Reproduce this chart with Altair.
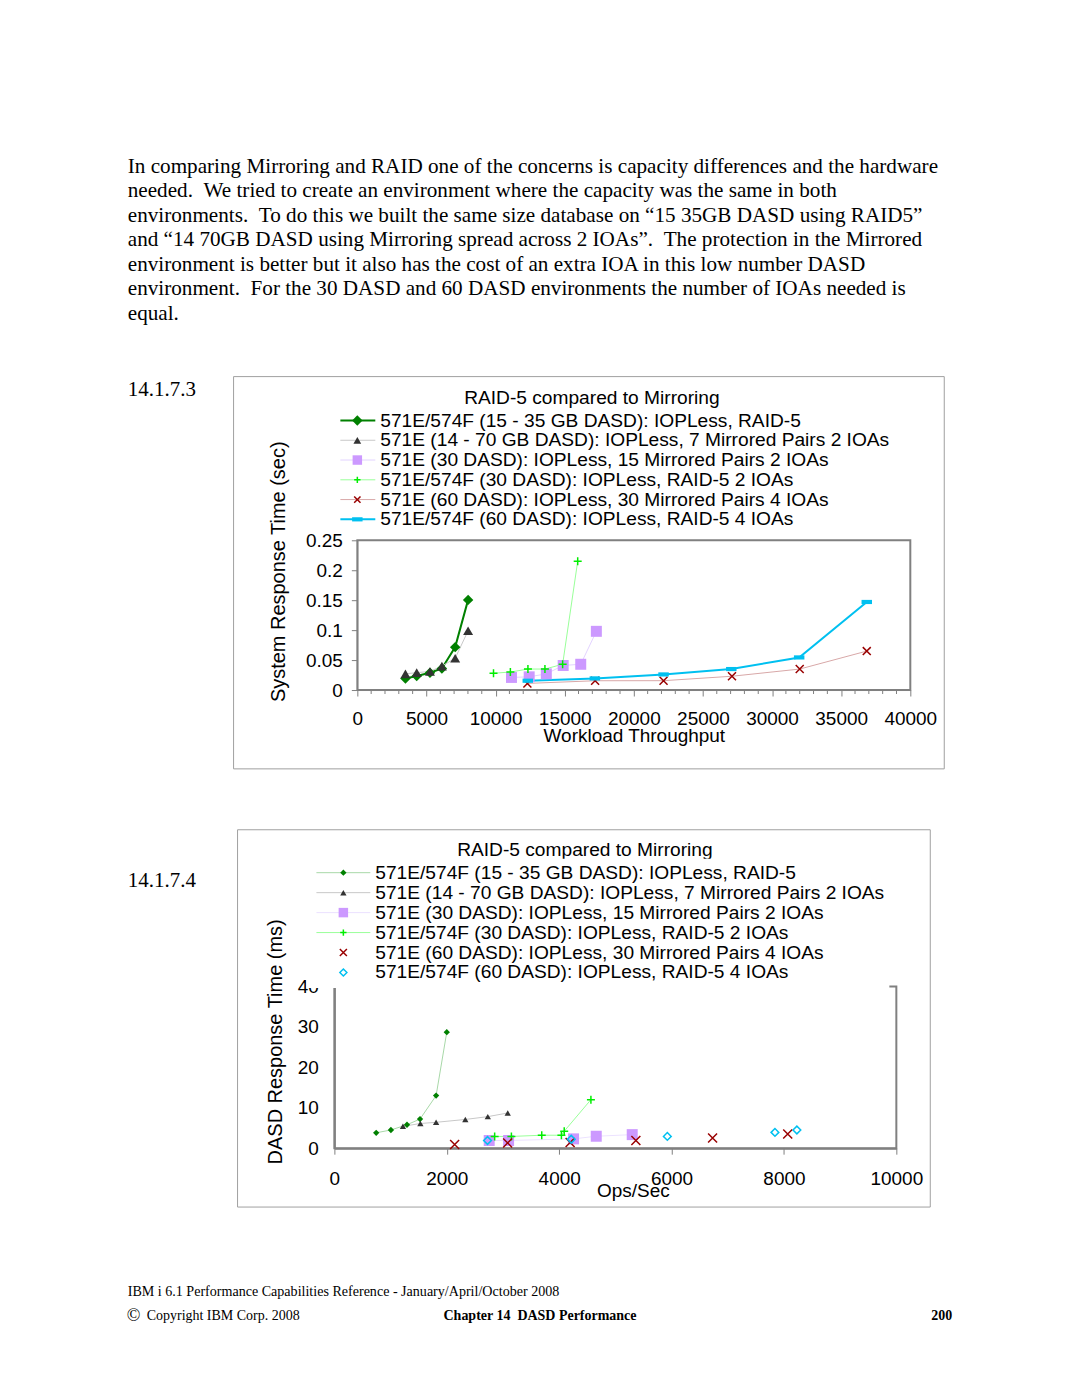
import altair as alt
import pandas as pd

SANS = "Liberation Sans"
SERIF = "Liberation Serif"

# ---------------- text content ----------------
PARA_LINES = [
    "In comparing Mirroring and RAID one of the concerns is capacity differences and the hardware",
    "needed. \u00a0We tried to create an environment where the capacity was the same in both",
    "environments. \u00a0To do this we built the same size database on \u201c15 35GB DASD using RAID5\u201d",
    "and \u201c14 70GB DASD using Mirroring spread across 2 IOAs\u201d. \u00a0The protection in the Mirrored",
    "environment is better but it also has the cost of an extra IOA in this low number DASD",
    "environment. \u00a0For the 30 DASD and 60 DASD environments the number of IOAs needed is",
    "equal.",
]
SECTION_1 = "14.1.7.3"
SECTION_2 = "14.1.7.4"
CHART_TITLE = "RAID-5 compared to Mirroring"
SERIES_NAMES = [
    "571E/574F (15 - 35 GB DASD): IOPLess, RAID-5",
    "571E (14 - 70 GB DASD): IOPLess, 7 Mirrored Pairs 2 IOAs",
    "571E (30 DASD): IOPLess, 15 Mirrored Pairs 2 IOAs",
    "571E/574F (30 DASD): IOPLess, RAID-5 2 IOAs",
    "571E (60 DASD): IOPLess, 30 Mirrored Pairs 4 IOAs",
    "571E/574F (60 DASD): IOPLess, RAID-5 4 IOAs",
]
FOOT_1 = "IBM i 6.1 Performance Capabilities Reference - January/April/October 2008"
FOOT_2 = "Copyright IBM Corp. 2008"
FOOT_CHAPTER = "Chapter 14 \u00a0DASD Performance"
FOOT_PAGE = "200"

# ---------------- chart 1 data (System Response Time, sec) ----------------
c1_x1 = [3480, 4295, 5254, 6117, 7077, 8012]
c1_y1 = [0.0194, 0.0233, 0.0288, 0.036, 0.0716, 0.1505]
c1_x2 = [3480, 4295, 5254, 6117, 7077, 8012]
c1_y2 = [0.027, 0.029, 0.031, 0.040, 0.053, 0.099]
c1_x3 = [11150, 12430, 13670, 14890, 16160, 17290]
c1_y3 = [0.021, 0.022, 0.027, 0.041, 0.043, 0.098]
c1_x4 = [9850, 11070, 12340, 13570, 14850, 15940]
c1_y4 = [0.028, 0.030, 0.035, 0.035, 0.043, 0.215]
c1_x5 = [12300, 17200, 22150, 27100, 32000, 36850]
c1_y5 = [0.011, 0.0155, 0.0156, 0.023, 0.035, 0.065]
c1_x6 = [12330, 17180, 22150, 27050, 31960, 36850]
c1_y6 = [0.0155, 0.0194, 0.026, 0.035, 0.0544, 0.147]
c1_xticks = [0, 5000, 10000, 15000, 20000, 25000, 30000, 35000, 40000]
c1_minor = [v for v in range(0, 40001, 1000) if v % 5000]
c1_yticks = [0, 0.05, 0.1, 0.15, 0.2, 0.25]

# ---------------- chart 2 data (DASD Response Time, ms) ----------------
c2_x1 = [744, 1006, 1292, 1524, 1810, 2000]
c2_y1 = [3.8, 4.5, 5.8, 7.2, 13.0, 28.7]
c2_x2 = [1220, 1530, 1810, 2330, 2730, 3085]
c2_y2 = [5.4, 6.1, 6.4, 7.1, 7.8, 8.7]
c2_x3 = [2755, 3100, 4256, 4660, 5300]
c2_y3 = [1.9, 1.9, 2.3, 2.95, 3.35]
c2_x4 = [2852, 3150, 3690, 4040, 4090, 4565]
c2_y4 = [2.9, 2.9, 3.2, 3.2, 4.2, 12.0]
c2_x5 = [2140, 3083, 4195, 5365, 6730, 8067]
c2_y5 = [0.9, 1.3, 1.4, 1.9, 2.5, 3.5]
c2_x6 = [2725, 4215, 5925, 7840, 8230]
c2_y6 = [1.9, 2.2, 2.9, 3.9, 4.5]
c2_xticks = [0, 2000, 4000, 6000, 8000, 10000]
c2_yticks = [0, 10, 20, 30, 40]

# ---------------- helpers ----------------
one = pd.DataFrame({"k": [0]})
PLUS = "M-1,0L1,0M0,-1L0,1"
XMARK = "M-1,-1L1,1M-1,1L1,-1"
DASH = "M-1,-0.4L1,-0.4L1,0.4L-1,0.4Z"


def df_of(xs, ys):
    return pd.DataFrame({"x": xs, "y": ys})


def vtext(text, x, y, size, font, align="left", baseline="alphabetic", weight="normal", **kw):
    return alt.Chart(one).mark_text(
        text=text, font=font, fontSize=size, align=align, baseline=baseline,
        fontWeight=weight, color="black", **kw
    ).encode(x=alt.value(x), y=alt.value(y))


def line_layer(df, X, Y, color, width):
    return alt.Chart(df).mark_line(color=color, strokeWidth=width).encode(x=X, y=Y)


def point_layer(df, X, Y, st):
    return alt.Chart(df).mark_point(
        shape=st["shape"], size=st["size"], filled=st["filled"], color=st["color"],
        strokeWidth=st.get("sw", 1), opacity=1
    ).encode(x=X, y=Y)


def legend_layers(styles, y0, dy, lx1, lx2, mx, tx):
    out = []
    for i, (name, st) in enumerate(zip(SERIES_NAMES, styles)):
        y = y0 + i * dy
        if st.get("line"):
            out.append(alt.Chart(one).mark_rule(color=st["line"], strokeWidth=st["lw"]).encode(
                x=alt.value(lx1), x2=alt.value(lx2), y=alt.value(y)))
        out.append(alt.Chart(one).mark_point(
            shape=st["shape"], size=st.get("lsize", st["size"]), filled=st["filled"],
            color=st["color"], strokeWidth=st.get("sw", 1), opacity=1
        ).encode(x=alt.value(mx), y=alt.value(y)))
        out.append(vtext(name, tx, y, 19.2, SANS, baseline="middle"))
    return out


# ---------------- chart 1 ----------------
W1, H1 = 554, 150
X1 = alt.X("x:Q", title="Workload Throughput",
           scale=alt.Scale(domain=[0, 40000], nice=False, zero=False),
           axis=alt.Axis(values=c1_xticks, format="d", grid=False, labelFlush=False,
                         labelFontSize=19, labelBaseline="middle", tickSize=6, labelPadding=23,
                         tickColor="#808080", domainColor="#808080",
                         titleFontSize=19, titleY=46, titleBaseline="middle"))
Y1 = alt.Y("y:Q", title="System Response Time (sec)",
           scale=alt.Scale(domain=[0, 0.25], nice=False),
           axis=alt.Axis(values=c1_yticks, format=".2~f", grid=False,
                         labelFontSize=19, tickSize=6, labelPadding=9,
                         tickColor="#808080", domainColor="#808080",
                         titleFontSize=20, titleX=-79, titleY=31, titleAngle=270,
                         titleAlign="center", titleBaseline="middle"))

st1 = [
    dict(shape="diamond", size=110, filled=True, color="#008000", line="#008000", lw=2),
    dict(shape="triangle-up", size=100, filled=True, color="#333333", line="#c8c8c8", lw=1, lsize=60),
    dict(shape="square", size=121, filled=True, color="#cc99ff", line="#e3d3ff", lw=1, lsize=90),
    dict(shape=PLUS, size=64, filled=False, color="#00ee00", line="#99ff99", lw=1, sw=1.5, lsize=40),
    dict(shape=XMARK, size=64, filled=False, color="#990000", line="#d8a8a8", lw=1, sw=1.5, lsize=40),
    dict(shape=DASH, size=110, filled=True, color="#00c0f0", line="#00c0f0", lw=2),
]
c1_data = [(c1_x1, c1_y1), (c1_x2, c1_y2), (c1_x3, c1_y3),
           (c1_x4, c1_y4), (c1_x5, c1_y5), (c1_x6, c1_y6)]

c1_layers = [
    alt.Chart(one).mark_rect(fillOpacity=0, stroke="#a0a0a0", strokeWidth=1).encode(
        x=alt.value(-124), x2=alt.value(588), y=alt.value(-164), y2=alt.value(229)),
    alt.Chart(pd.DataFrame({"x": c1_minor})).mark_rule(color="#808080", strokeWidth=1).encode(
        x=X1, y=alt.value(H1), y2=alt.value(H1 + 4)),
]
for (xs, ys), st in zip(c1_data, st1):
    c1_layers.append(line_layer(df_of(xs, ys), X1, Y1, st["line"], st["lw"]))
for (xs, ys), st in zip(c1_data, st1):
    c1_layers.append(point_layer(df_of(xs, ys), X1, Y1, st))
c1_layers.append(vtext(CHART_TITLE, 235, -143, 19.2, SANS, align="center", baseline="middle"))
c1_layers += legend_layers(st1, -120, 19.8, -17, 18, 0, 23)

chart1 = alt.layer(*c1_layers).properties(
    width=W1, height=H1, view=alt.ViewBackground(stroke="#808080", strokeWidth=2))

# ---------------- chart 2 ----------------
W2, H2 = 563, 162
X2 = alt.X("x:Q", title="Ops/Sec",
           scale=alt.Scale(domain=[0, 10000], nice=False, zero=False),
           axis=alt.Axis(values=c2_xticks, format="d", grid=False, labelFlush=False,
                         labelFontSize=19, labelBaseline="middle", tickSize=6, labelPadding=24,
                         tickColor="#808080", domainColor="#808080", domainWidth=2,
                         titleFontSize=19, titleX=299, titleY=42, titleBaseline="middle"))
Y2 = alt.Y("y:Q", title="DASD Response Time (ms)",
           scale=alt.Scale(domain=[0, 40], nice=False),
           axis=alt.Axis(values=c2_yticks, format="d", grid=False,
                         labelFontSize=19, tickSize=0, labelPadding=16,
                         domainColor="#808080", domainWidth=2,
                         titleFontSize=20, titleX=-59, titleY=55, titleAngle=270,
                         titleAlign="center", titleBaseline="middle"))

st2 = [
    dict(shape="diamond", size=40, filled=True, color="#008000", line="#a8d8a8", lw=1),
    dict(shape="triangle-up", size=40, filled=True, color="#333333", line="#c8c8c8", lw=1),
    dict(shape="square", size=121, filled=True, color="#cc99ff", line="#ece2ff", lw=1, lsize=90),
    dict(shape=PLUS, size=64, filled=False, color="#00ee00", line="#99ff99", lw=1, sw=1.5, lsize=40),
    dict(shape=XMARK, size=81, filled=False, color="#990000", sw=1.5, lsize=50),
    dict(shape="diamond", size=60, filled=False, color="#00c0f0", sw=1.5, lsize=50),
]
c2_data = [(c2_x1, c2_y1), (c2_x2, c2_y2), (c2_x3, c2_y3),
           (c2_x4, c2_y4), (c2_x5, c2_y5), (c2_x6, c2_y6)]

c2_layers = [
    alt.Chart(one).mark_rect(fillOpacity=0, stroke="#a0a0a0", strokeWidth=1).encode(
        x=alt.value(-97), x2=alt.value(597), y=alt.value(-157), y2=alt.value(221)),
]
for (xs, ys), st in zip(c2_data, st2):
    if st.get("line"):
        c2_layers.append(line_layer(df_of(xs, ys), X2, Y2, st["line"], st["lw"]))
for (xs, ys), st in zip(c2_data, st2):
    c2_layers.append(point_layer(df_of(xs, ys), X2, Y2, st))
c2_layers.append(vtext(CHART_TITLE, 251, -137, 19.2, SANS, align="center", baseline="middle"))
# white legend box that hides the top edge of the plot frame (as in the reference)
c2_layers.append(alt.Chart(one).mark_rect(fill="white").encode(
    x=alt.value(-28), x2=alt.value(556), y=alt.value(-128), y2=alt.value(1.5)))
c2_layers += legend_layers(st2, -114, 20, -18, 36, 9, 41)

chart2 = alt.layer(*c2_layers).properties(
    width=W2, height=H2, view=alt.ViewBackground(stroke="#808080", strokeWidth=2))


# ---------------- page assembly ----------------
# Note: in a "flush" vconcat, the nested hconcat rows take no height, so the
# following rows start where the nested row starts.
def spacer(w, h):
    return alt.Chart(one).mark_text(text=" ").encode(
        x=alt.value(0), y=alt.value(0)).properties(width=w, height=h)


row1 = alt.layer(
    alt.Chart(one).mark_text(text=PARA_LINES, font=SERIF, fontSize=21.2, lineHeight=24.5,
                             align="left", baseline="alphabetic", color="black").encode(
        x=alt.value(127), y=alt.value(171)),
    vtext(SECTION_1, 127, 394, 21, SERIF),
).properties(width=1080, height=539)

row2 = alt.hconcat(spacer(357, H1), chart1, spacing=0, bounds="flush")   # origin y = 539

row3 = alt.layer(vtext(SECTION_2, 127, 347, 21, SERIF)).properties(width=1080, height=447)

row4 = alt.hconcat(spacer(334, H2), chart2, spacing=0, bounds="flush")   # origin y = 986

row5 = alt.layer(
    vtext(FOOT_1, 127, 310, 14.1, SERIF),
    vtext("\u00a9", 126, 335, 18, SERIF),
    vtext(FOOT_2, 146, 334, 14, SERIF),
    vtext(FOOT_CHAPTER, 540, 334, 14, SERIF, align="center", weight="bold"),
    vtext(FOOT_PAGE, 953, 334, 14, SERIF, align="right", weight="bold"),
).properties(width=1080, height=411)

chart = alt.vconcat(row1, row2, row3, row4, row5, spacing=0, bounds="flush",
                    padding=0, background="white").configure_view(
    stroke="transparent").configure_axis(
    labelFont=SANS, titleFont=SANS, labelColor="black", titleColor="black",
    titleFontWeight="normal")

chart.save("out.html", embed_options={"renderer": "svg", "actions": False})
